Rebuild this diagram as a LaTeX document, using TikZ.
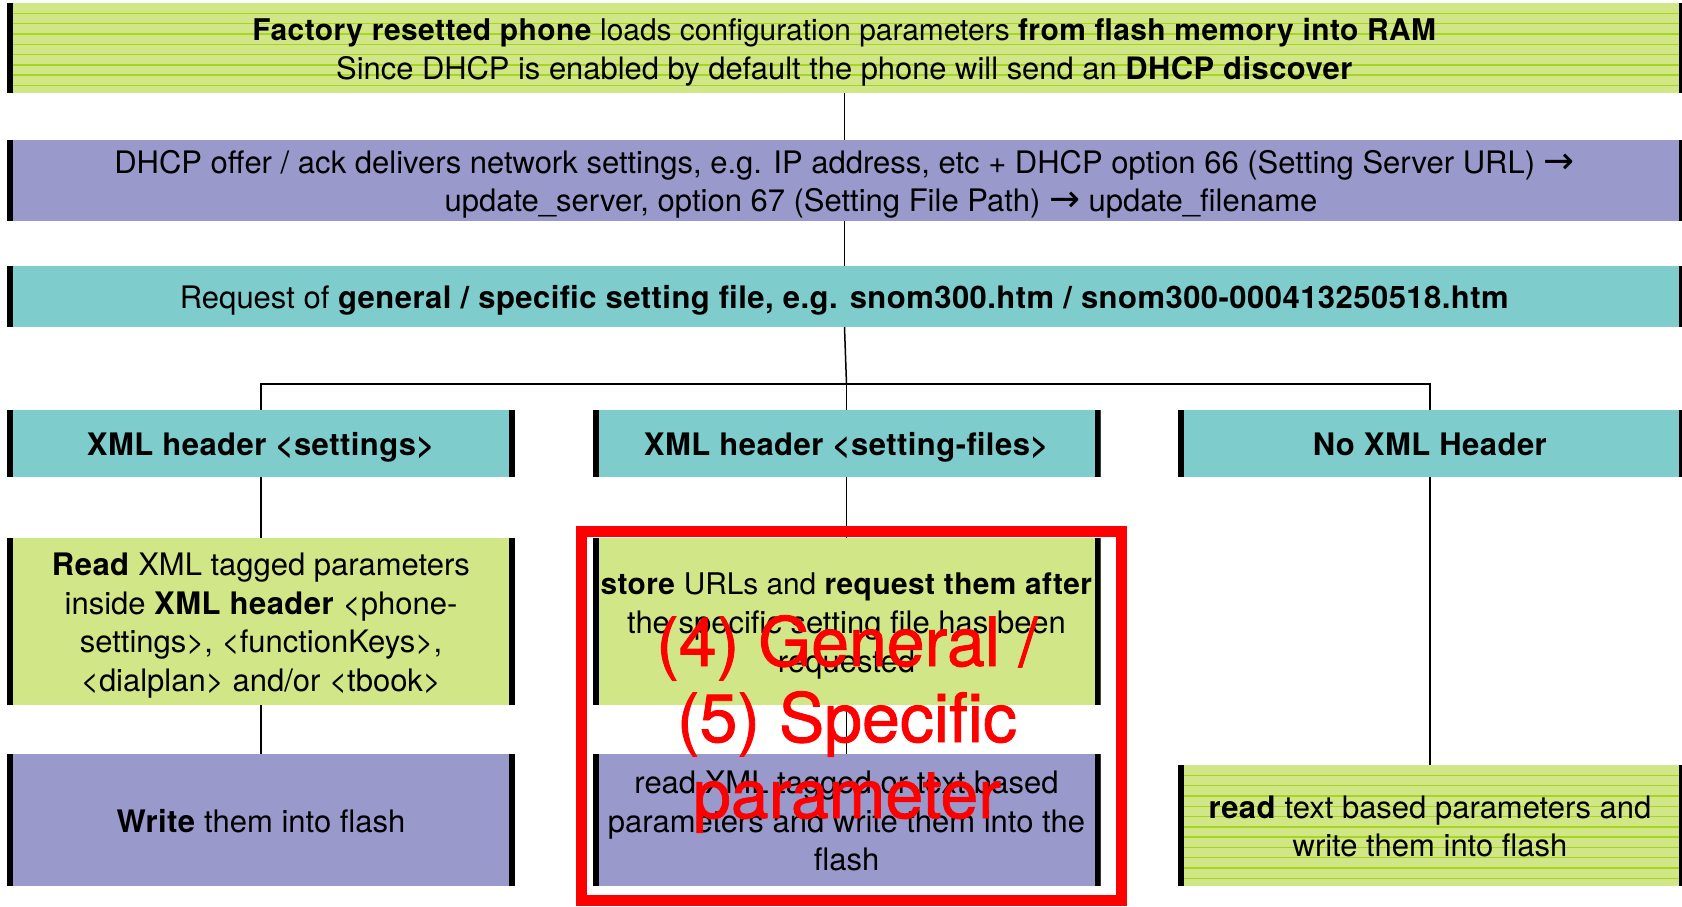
\documentclass[tikz,border=0pt]{standalone}
\usepackage{fontspec}
\setmainfont{TeX Gyre Heros}[BoldFeatures={LetterSpace=1.5}]
\newfontfamily\arrowfont{DejaVu Sans}
\newfontfamily\capfont{TeX Gyre Heros}[FakeBold=1.2]
\definecolor{leaf}{RGB}{209,230,134}
\definecolor{leafline}{RGB}{168,212,34}
\definecolor{lilac}{RGB}{153,153,204}
\definecolor{aqua}{RGB}{126,204,204}
% first-line and last-line struts: fixed line metrics for centring
\newcommand\lift{\rule{0pt}{31pt}}
\newcommand\sink{\rule[-7pt]{0pt}{0pt}}
\newcommand\fs[1]{\fontsize{#1}{38.6}\selectfont}
\newcommand\arr{{\arrowfont\fontsize{37}{38.6}\selectfont →}}
\tikzset{
  card/.style={rectangle, inner sep=0pt, align=center,
    font=\fontsize{#1}{38.6}\selectfont},
  card/.default=31,
  bars/.style 2 args={path picture={
    \fill[black] (path picture bounding box.north west) rectangle
      ([xshift=#1]path picture bounding box.south west);
    \fill[black] (path picture bounding box.north east) rectangle
      ([xshift=-#2]path picture bounding box.south east);}},
  stripedbars/.style 2 args={path picture={
    \foreach \k in {1,...,12}
      \draw[leafline, line width=1.4pt]
        ([yshift=-10.3*\k pt]path picture bounding box.north west) --
        ([yshift=-10.3*\k pt]path picture bounding box.north east);
    \fill[black] (path picture bounding box.north west) rectangle
      ([xshift=#1]path picture bounding box.south west);
    \fill[black] (path picture bounding box.north east) rectangle
      ([xshift=-#2]path picture bounding box.south east);}},
  wide/.style={minimum width=1675pt},
  col/.style={minimum width=508pt},
  link/.style={draw=black, line width=1.5pt},
}
\begin{document}
\begin{tikzpicture}[x=1pt, y=-1pt]
\useasboundingbox (0,0) rectangle (1682,906);

% full-width stages
\node[card, wide, fill=leaf, minimum height=90pt, stripedbars={6pt}{3pt}] (boot) at (844.5,48)
  {\lift{\fs{29.9}\textbf{Factory resetted phone} loads configuration parameters \textbf{from flash memory into RAM}}\\
   {\fs{30.9}Since DHCP is enabled by default the phone will send an \textbf{DHCP discover}}\sink};
\node[card, wide, fill=lilac, minimum height=81pt, bars={6pt}{3pt}] (dhcp) at (844.5,180.5)
  {\lift DHCP offer / ack delivers network settings, e.g. IP address, etc + DHCP option 66 (Setting Server URL) \arr\\
   \hspace*{73pt}update\_server, option 67 (Setting File Path) \arr{} update\_filename\sink};
\node[card, wide, fill=aqua, minimum height=61pt, bars={6pt}{3pt}] (request) at (844.5,296.5)
  {\lift Request of \textbf{general / specific setting file, e.g. snom300.htm / snom300-000413250518.htm}\sink};

% header cases
\node[card, col, fill=aqua, minimum height=67pt, bars={6pt}{6pt}] (hA) at (261,443.5)
  {\lift\textbf{XML header <settings>}\sink};
\node[card, col, fill=aqua, minimum height=67pt, bars={6pt}{6pt}] (hB) at (846.5,443.5)
  {\lift\textbf{XML header <setting-files>}\sink};
\node[card, minimum width=504pt, fill=aqua, minimum height=67pt, bars={6pt}{3pt}] (hC) at (1430,443.5)
  {\lift\textbf{No XML Header}\sink};

% actions
\node[card, col, fill=leaf, minimum height=167pt, bars={6pt}{6pt}] (rA) at (261,621.5)
  {\lift\textbf{Read} XML tagged parameters\\ inside \textbf{XML header} <phone-\\ settings>, <functionKeys>,\\ <dialplan> and/or <tbook>\sink};
\node[card, col, fill=leaf, minimum height=167pt, bars={6pt}{6pt}] (rB) at (846.5,621.5)
  {\lift{\fs{29.8}\textbf{store} URLs and \textbf{request them after}}\\ the specific setting file has been\\ requested\sink};
\node[card, col, fill=lilac, minimum height=132pt, bars={6pt}{6pt}] (wA) at (261,820)
  {\lift\textbf{Write} them into flash\sink};
\node[card, col, fill=lilac, minimum height=132pt, bars={6pt}{6pt}] (wB) at (846.5,820)
  {\lift read XML tagged or text based\\ parameters and write them into the\\ flash\sink};
\node[card, minimum width=504pt, fill=leaf, minimum height=121pt, stripedbars={6pt}{3pt}] (wC) at (1430,825.5)
  {\lift\textbf{read} text based parameters and\\ write them into flash\sink};

% connectors
\coordinate (bus) at (846.5,384);
\draw[link] (boot.south) -- (dhcp.north);
\draw[link] (dhcp.south) -- (request.north);
\draw[link] (request.south) -- (bus);
\draw[link] (hA.north) |- (bus) -| (hC.north);
\draw[link] (bus) -- (hB.north);
\draw[link] (hA.south) -- (rA.north);
\draw[link] (rA.south) -- (wA.north);
\draw[link] (hB.south) -- (rB.north);
\draw[link] (rB.south) -- (wB.north);
\draw[link] (hC.south) -- (wC.north);

% highlight frame and caption
\node[draw=red, line width=11pt, minimum width=540pt, minimum height=369pt, inner sep=0pt] (frame) at (851.5,716) {};
\node[align=center, text=red, font=\capfont\fontsize{68}{76}\selectfont] (caption) at (847,724)
  {(4) General /\\ (5) Specific\\ parameter};
\end{tikzpicture}
\end{document}
